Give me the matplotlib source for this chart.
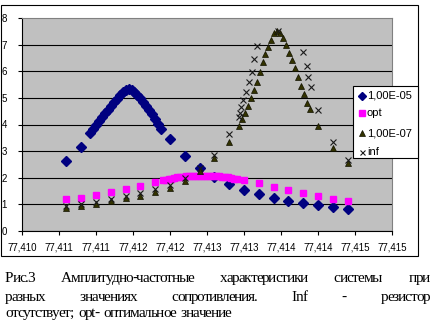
import matplotlib
matplotlib.use('Agg')
import matplotlib.pyplot as plt
from matplotlib.lines import Line2D
from matplotlib.patches import Rectangle

plt.rcParams['font.family'] = 'Liberation Sans'

# R = 1,00E-05: two side points, dense sweep over the resonance, tail
f_r5 = [77.4106, 77.4108,
        77.41092, 77.41096, 77.41100, 77.41104, 77.41108, 77.41112, 77.41116,
        77.41120, 77.41124, 77.41128, 77.41132, 77.41136, 77.41140, 77.41144,
        77.41148, 77.41152, 77.41156, 77.41160, 77.41164, 77.41168, 77.41172,
        77.41176, 77.41180, 77.41184, 77.41188,
        77.4120, 77.4122, 77.4124, 77.4126, 77.4128, 77.4130, 77.4132,
        77.4134, 77.4136, 77.4138, 77.4140, 77.4142, 77.4144]
a_r5 = [2.63, 3.16,
        3.68, 3.82, 3.97, 4.13, 4.27, 4.42, 4.56, 4.70, 4.83, 4.97, 5.10,
        5.21, 5.29, 5.33, 5.30, 5.23, 5.12, 4.98, 4.85, 4.70, 4.55, 4.38,
        4.20, 4.03, 3.84,
        3.46, 2.82, 2.37, 2.03, 1.77, 1.54, 1.39, 1.24, 1.13, 1.05, 0.98,
        0.90, 0.83]

# optimal resistor
f_opt = [77.4106, 77.4108, 77.4110, 77.4112, 77.4114, 77.4116, 77.4118,
         77.41190, 77.41194, 77.41198, 77.41202, 77.41206, 77.41210, 77.41214,
         77.41218, 77.41222, 77.41226, 77.41230, 77.41234, 77.41238, 77.41242,
         77.41246, 77.41250, 77.41254, 77.41258, 77.41262, 77.41266, 77.41270,
         77.41274, 77.41278, 77.41282, 77.41286, 77.41290,
         77.4130, 77.4132, 77.4134, 77.4136, 77.4138, 77.4140, 77.4142, 77.4144]
a_opt = [1.20, 1.24, 1.35, 1.47, 1.58, 1.69, 1.84,
         1.91, 1.93, 1.95, 1.97, 1.99, 2.01, 2.02, 2.04, 2.05, 2.06, 2.07,
         2.08, 2.08, 2.08, 2.08, 2.08, 2.07, 2.07, 2.06, 2.05, 2.04, 2.03,
         2.01, 1.99, 1.97, 1.95,
         1.91, 1.80, 1.65, 1.54, 1.43, 1.32, 1.20, 1.12]

# R = 1,00E-07
f_r7 = [77.4106, 77.4108, 77.4110, 77.4112, 77.4114, 77.4116, 77.4118,
        77.4120, 77.4122, 77.4124, 77.4126, 77.4128,
        77.41293, 77.41297, 77.41301, 77.41305, 77.41309, 77.41313, 77.41317,
        77.41321, 77.41325, 77.41329, 77.41333, 77.41337, 77.41341, 77.41345,
        77.41349, 77.41353, 77.41357, 77.41361, 77.41365, 77.41369, 77.41373,
        77.41377, 77.41381, 77.41385, 77.41389,
        77.4140, 77.4142, 77.4144]
a_r7 = [0.86, 0.94, 1.01, 1.13, 1.24, 1.32, 1.47, 1.62, 1.88, 2.26, 2.74, 3.36,
        3.94, 4.22, 4.45, 4.68, 4.98, 5.28, 5.58, 5.98, 6.33, 6.63, 6.90,
        7.18, 7.42, 7.52, 7.45, 7.26, 7.00, 6.69, 6.43, 6.13, 5.78, 5.45,
        5.15, 4.81, 4.57,
        3.96, 3.12, 2.55]

# no resistor
f_inf = [77.4106, 77.4108, 77.4110, 77.4112, 77.4114, 77.4116, 77.4118,
         77.4120, 77.4122, 77.4124, 77.4126, 77.4128,
         77.41293, 77.41295, 77.41296, 77.41299, 77.41303, 77.41307, 77.41311,
         77.41314, 77.41318, 77.41346, 77.41380, 77.41385, 77.41387, 77.41391,
         77.4140, 77.4142, 77.4144]
a_inf = [0.95, 1.03, 1.10, 1.22, 1.33, 1.41, 1.57, 1.72, 1.98, 2.38, 2.86, 3.66,
         4.28, 4.44, 4.66, 4.92, 5.23, 5.60, 5.98, 6.47, 6.95, 7.50, 6.73,
         6.20, 5.79, 5.41,
         4.55, 3.33, 2.66]

x_ticks = [77.410, 77.4105, 77.411, 77.4115, 77.412, 77.4125, 77.413,
           77.4135, 77.414, 77.4145, 77.415]
x_tick_labels = ['77,410', '77,411', '77,411', '77,412', '77,412', '77,413',
                 '77,413', '77,414', '77,414', '77,415', '77,415']
y_ticks = [0, 1, 2, 3, 4, 5, 6, 7, 8]

series_labels = ['1,00E-05', 'opt', '1,00E-07', 'inf']

caption = [
    'Рис.3 Амплитудно-частотные характеристики системы при',
    'разных значениях сопротивления. Inf - резистор',
    'отсутствует; opt- оптимальное значение',
]

W, H = 435, 332
fig = plt.figure(figsize=(W / 100, H / 100), dpi=100)
fig.patch.set_facecolor('white')

# chart frame
fig.add_artist(Rectangle((1.5 / W, 1 - 255.5 / H), 416.5 / W, 250.5 / H,
                         transform=fig.transFigure, fill=False,
                         edgecolor='black', linewidth=0.8, zorder=0.5))

ax = fig.add_axes([22 / W, 1 - 231 / H, 370 / W, 213 / H])
ax.set_facecolor('#c0c0c0')

styles = [
    dict(marker='D', color='#000080', ms=4.8, mec='#000080'),
    dict(marker='s', color='#ff00ff', ms=4.5, mec='#ff00ff'),
    dict(marker='^', color='#333300', ms=5.0, mec='#111100', mew=0.5),
    dict(marker='x', color='#1a1a1a', ms=4.0, mew=0.8),
]
for (f, a), st in zip([(f_r5, a_r5), (f_opt, a_opt), (f_r7, a_r7),
                       (f_inf, a_inf)], styles):
    ax.plot(f, a, linestyle='none', clip_on=False, **st)

ax.set_xlim(77.410, 77.415)
ax.set_ylim(0, 8)
ax.set_xticks(x_ticks)
ax.set_xticklabels(x_tick_labels)
ax.set_yticks(y_ticks)
ax.tick_params(axis='both', direction='out', length=3, width=0.8,
               labelsize=7, colors='black')
ax.tick_params(axis='x', pad=5)
ax.tick_params(axis='y', pad=8)
ax.grid(axis='y', color='black', linewidth=0.8)
ax.get_ygridlines()[-1].set_visible(False)
ax.set_axisbelow(True)
for side in ['left', 'bottom']:
    ax.spines[side].set_color('black')
    ax.spines[side].set_linewidth(0.8)
for side in ['top', 'right']:
    ax.spines[side].set_color('#808080')
    ax.spines[side].set_linewidth(0.8)

# legend box drawn over the plot
fig.add_artist(Rectangle((353.5 / W, 1 - 158.5 / H), 64.5 / W, 72.5 / H,
                         transform=fig.transFigure, facecolor='white',
                         edgecolor='black', linewidth=0.8, zorder=3))
row_y = [96, 113, 133, 152]
for label, st, ry in zip(series_labels, styles, row_y):
    st = dict(st)
    st['ms'] = st['ms'] * 0.9
    fig.add_artist(Line2D([362 / W], [1 - ry / H], linestyle='none',
                          transform=fig.transFigure, zorder=4, **st))
    fig.text(367 / W, 1 - ry / H, label, fontsize=8, va='center', ha='left',
             zorder=4)

# caption: letter-spaced serif text, first two lines justified
renderer = fig.canvas.get_renderer()
cap_size = 11
letter_gap = -1.2  # px added between glyph boxes
word_gap = 4.5     # px for the unjustified last line


def spaced_word(word, y):
    chars = []
    widths = []
    for ch in word:
        t = fig.text(0, y, ch, fontsize=cap_size, family='Liberation Serif',
                     va='baseline', ha='left')
        chars.append(t)
        widths.append(t.get_window_extent(renderer).width)
    total = sum(widths) + letter_gap * (len(word) - 1)
    return chars, widths, total


def place_word(chars, widths, x_px):
    for t, w in zip(chars, widths):
        t.set_x(x_px / W)
        x_px += w + letter_gap


def caption_line(text, baseline_px, x0, x1=None):
    y = 1 - baseline_px / H
    words = [spaced_word(w, y) for w in text.split()]
    if x1 is None:
        gap = word_gap
    else:
        gap = (x1 - x0 - sum(w[2] for w in words)) / (len(words) - 1)
    x = x0
    for chars, widths, total in words:
        place_word(chars, widths, x)
        x += total + gap


caption_line(caption[0], 282, 5, 430)
caption_line(caption[1], 301, 5, 430)
caption_line(caption[2], 317, 5)

fig.savefig('out.png', dpi=100)
